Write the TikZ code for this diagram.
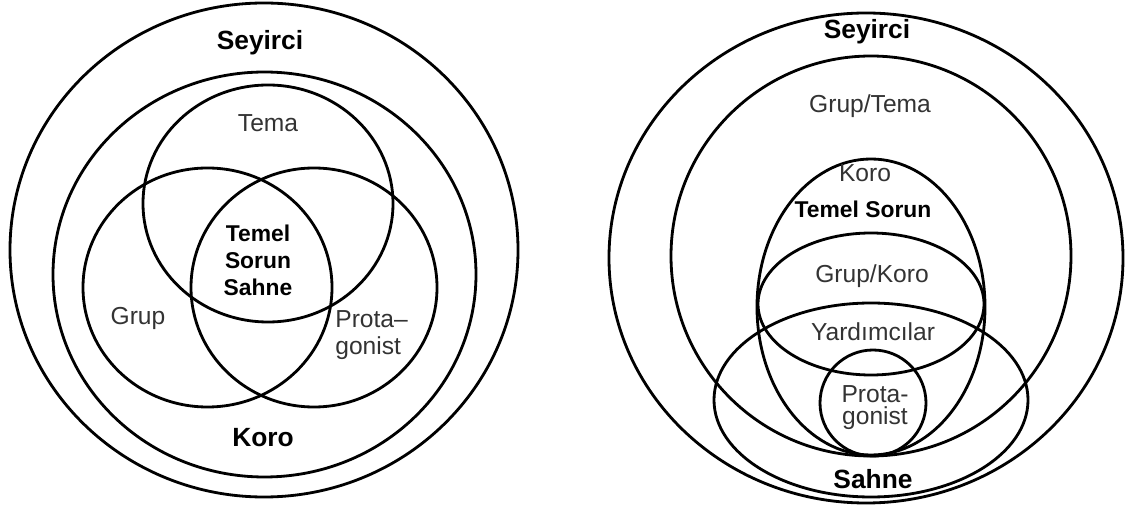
\documentclass[tikz,border=0pt]{standalone}
\usepackage{fontspec}
\setmainfont{Liberation Sans}
\usetikzlibrary{positioning}

\begin{document}
\begin{tikzpicture}[
    x=0.02cm, y=-0.02cm,
    ring/.style={line width=1.6pt},
    head/.style={font=\fontsize{15}{18}\selectfont\bfseries, anchor=base, inner sep=0pt},
    lbl/.style={font=\fontsize{14}{15.4}\selectfont, text=black!80, anchor=base, inner sep=0pt},
    core/.style={font=\fontsize{13}{15.4}\selectfont\bfseries, align=center, anchor=base, inner sep=0pt},
]
\useasboundingbox (0,0) rectangle (1126,506);
% left diagram
\draw[ring] (264,250) ellipse [x radius=254, y radius=247];
\draw[ring] (264.5,274.5) ellipse [x radius=211.5, y radius=202.5];
\draw[ring] (268,203.5) ellipse [x radius=125, y radius=118.5];
\draw[ring] (207.5,287.5) ellipse [x radius=124.5, y radius=119.5];
\draw[ring] (314,287.5) ellipse [x radius=123, y radius=119.5];
\node[head] (seyirciL) at (260,50) {Seyirci};
\node[lbl] (temaL) at (268,132) {Tema};
\node[core] (temelL) at (258,296) {Temel\\Sorun\\Sahne};
\node[lbl] (grupL) at (138,325) {Grup};
\node[lbl, align=left, anchor=base west] (protaL) at (335,355) {Prota–\\gonist};
\node[head] (koroL) at (263,447) {Koro};
% right diagram
\draw[ring] (866,258) ellipse [x radius=257, y radius=245];
\draw[ring] (871,256) circle [radius=200];
\draw[ring] (871,307) ellipse [x radius=114, y radius=148];
\draw[ring] (871,304) ellipse [x radius=113, y radius=71];
\draw[ring] (871,400) ellipse [x radius=157, y radius=97];
\draw[ring] (873,403) circle [radius=53];
\node[head] (seyirciR) at (867,39) {Seyirci};
\node[lbl] (grupTema) at (870,113) {Grup/Tema};
\node[lbl] (koroR) at (865,182) {Koro};
\node[core] (temelR) at (863,218) {Temel Sorun};
\node[lbl] (grupKoro) at (872,283) {Grup/Koro};
\node[lbl] (yardim) at (873,341) {Yardımcılar};
\node[lbl, font=\fontsize{14}{13}\selectfont, align=center] (protaR) at (875,425) {Prota-\\gonist};
\node[head] (sahneR) at (873,488) {Sahne};
\end{tikzpicture}
\end{document}
